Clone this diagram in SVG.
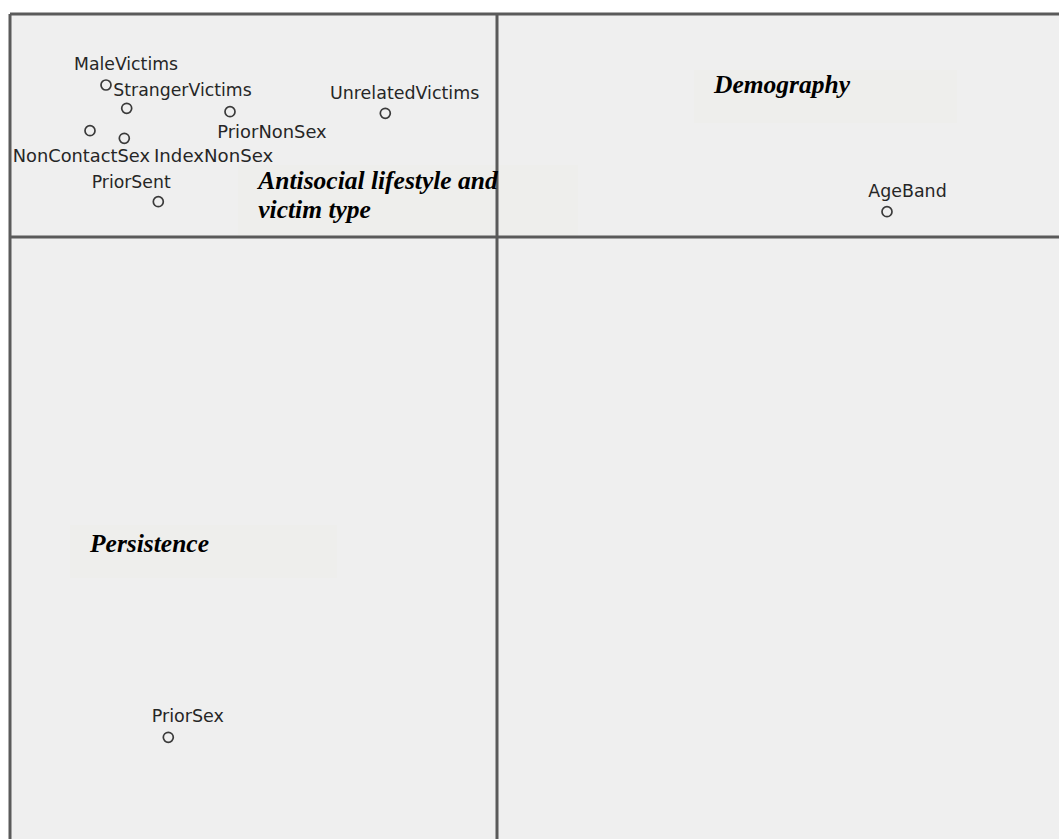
<svg xmlns="http://www.w3.org/2000/svg" width="1059" height="839" viewBox="0 0 1059 839">
  <style>
    .lbl { font-family: "DejaVu Sans", "Liberation Sans", sans-serif; font-size: 17px; fill: #262626; }
    .ttl { font-family: "Liberation Serif", "Times New Roman", serif; font-size: 25.5px; font-weight: bold; font-style: italic; fill: #000; }
    .pt { fill: none; stroke: #3a3a3a; stroke-width: 1.7; }
    .frame { stroke: #5a5a5a; stroke-width: 3; fill: none; }
    .patch { fill: #eeeeec; }
  </style>
  <rect x="0" y="0" width="1059" height="839" fill="#ffffff"/>
  <rect x="10" y="14" width="1049" height="825" fill="#efefef"/>

  <g id="patches">
    <rect class="patch" x="238" y="165" width="340" height="71"/>
    <rect class="patch" x="694" y="70" width="263" height="53"/>
    <rect class="patch" x="70" y="525" width="267" height="53"/>
  </g>

  <g id="frame">
    <line class="frame" x1="10" y1="14" x2="1059" y2="14"/>
    <line class="frame" x1="10" y1="14" x2="10" y2="839"/>
    <line class="frame" x1="497" y1="14" x2="497" y2="839"/>
    <line class="frame" x1="10" y1="237" x2="1059" y2="237"/>
  </g>

  <g id="connectors"></g>

  <g id="node-MaleVictims">
    <circle class="pt" cx="106" cy="85" r="5"/>
    <text class="lbl" x="74" y="70" textLength="104" lengthAdjust="spacingAndGlyphs">MaleVictims</text>
  </g>
  <g id="node-StrangerVictims">
    <circle class="pt" cx="126.7" cy="108.3" r="5"/>
    <text class="lbl" x="113.3" y="96" textLength="138.4" lengthAdjust="spacingAndGlyphs">StrangerVictims</text>
  </g>
  <g id="node-UnrelatedVictims">
    <circle class="pt" cx="385.3" cy="113.3" r="5"/>
    <text class="lbl" x="330" y="99" textLength="149.3" lengthAdjust="spacingAndGlyphs">UnrelatedVictims</text>
  </g>
  <g id="node-PriorNonSex">
    <circle class="pt" cx="230" cy="111.7" r="5"/>
    <text class="lbl" x="217.3" y="138.3" textLength="109.4" lengthAdjust="spacingAndGlyphs">PriorNonSex</text>
  </g>
  <g id="node-NonContactSex">
    <circle class="pt" cx="90" cy="130.7" r="5"/>
    <text class="lbl" x="12.7" y="162" textLength="137.3" lengthAdjust="spacingAndGlyphs">NonContactSex</text>
  </g>
  <g id="node-IndexNonSex">
    <circle class="pt" cx="124.3" cy="138.3" r="5"/>
    <text class="lbl" x="154" y="162" textLength="119.3" lengthAdjust="spacingAndGlyphs">IndexNonSex</text>
  </g>
  <g id="node-PriorSent">
    <circle class="pt" cx="158.3" cy="201.7" r="5"/>
    <text class="lbl" x="91.7" y="187.7" textLength="79" lengthAdjust="spacingAndGlyphs">PriorSent</text>
  </g>
  <g id="node-AgeBand">
    <circle class="pt" cx="887" cy="211.7" r="5"/>
    <text class="lbl" x="868.3" y="197" textLength="78.4" lengthAdjust="spacingAndGlyphs">AgeBand</text>
  </g>
  <g id="node-PriorSex">
    <circle class="pt" cx="168.3" cy="737.3" r="5"/>
    <text class="lbl" x="151.7" y="722.3" textLength="72.3" lengthAdjust="spacingAndGlyphs">PriorSex</text>
  </g>

  <g id="group-antisocial">
    <text class="ttl" x="258.3" y="189.3">Antisocial lifestyle and</text>
    <text class="ttl" x="258.3" y="218.3">victim type</text>
  </g>
  <g id="group-demography">
    <text class="ttl" x="714" y="93.3">Demography</text>
  </g>
  <g id="group-persistence">
    <text class="ttl" x="90" y="551.7">Persistence</text>
  </g>
</svg>
